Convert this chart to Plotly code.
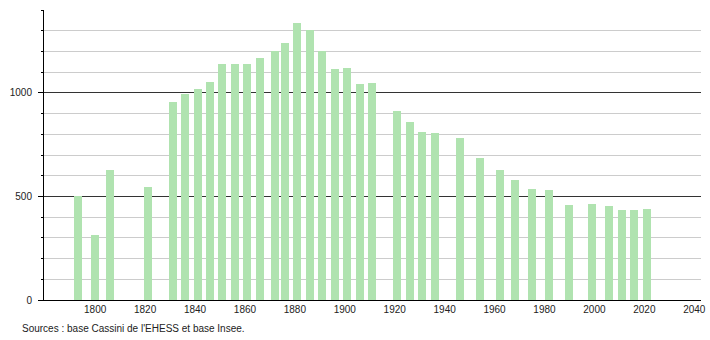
import plotly.graph_objects as go

years = [1793, 1800, 1806, 1821, 1831, 1836, 1841, 1846, 1851, 1856, 1861, 1866,
         1872, 1876, 1881, 1886, 1891, 1896, 1901, 1906, 1911, 1921, 1926, 1931,
         1936, 1946, 1954, 1962, 1968, 1975, 1982, 1990, 1999, 2006, 2011, 2016, 2021]
population = [500, 316, 627, 544, 957, 996, 1017, 1054, 1141, 1141, 1141, 1169,
              1202, 1239, 1335, 1302, 1200, 1115, 1120, 1044, 1050, 912, 858, 811,
              807, 781, 684, 627, 581, 537, 530, 459, 464, 455, 434, 434, 438]
x_ticks = list(range(1800, 2041, 20))
source_text = "Sources : base Cassini de l'EHESS et base Insee."

fig = go.Figure()
fig.add_trace(go.Bar(
    x=years, y=population, width=3.2,
    marker=dict(color="#b0e3b0", line=dict(width=0)),
    hoverinfo="x+y",
))

font = dict(family="Liberation Sans, Arial, sans-serif", size=10, color="#222")

fig.update_layout(
    width=710, height=340,
    margin=dict(l=44, r=9, t=10, b=40, autoexpand=False),
    paper_bgcolor="white", plot_bgcolor="white",
    showlegend=False,
    font=font,
    bargap=0,
    xaxis=dict(
        range=[1779.5, 2042.7],
        tickmode="array", tickvals=x_ticks,
        ticks="", showgrid=False, zeroline=False,
        showline=True, linecolor="black", linewidth=1,
        tickfont=font, automargin=False,
    ),
    yaxis=dict(
        range=[0, 1400],
        tick0=0, dtick=500,
        ticks="outside", ticklen=5, tickcolor="black", tickwidth=1,
        ticklabelstandoff=4,
        showgrid=True, gridcolor="#333", gridwidth=1,
        zeroline=False,
        showline=True, linecolor="black", linewidth=1,
        tickfont=font, automargin=False,
        minor=dict(dtick=100, ticks="outside", ticklen=2, tickcolor="black",
                   showgrid=True, gridcolor="#cccccc", gridwidth=1),
    ),
    annotations=[dict(
        text=source_text, xref="paper", yref="paper",
        x=-24 / 657, y=-0.0966, xanchor="left", yanchor="middle",
        showarrow=False, font=font,
    )],
)

fig.write_html("out.html")
